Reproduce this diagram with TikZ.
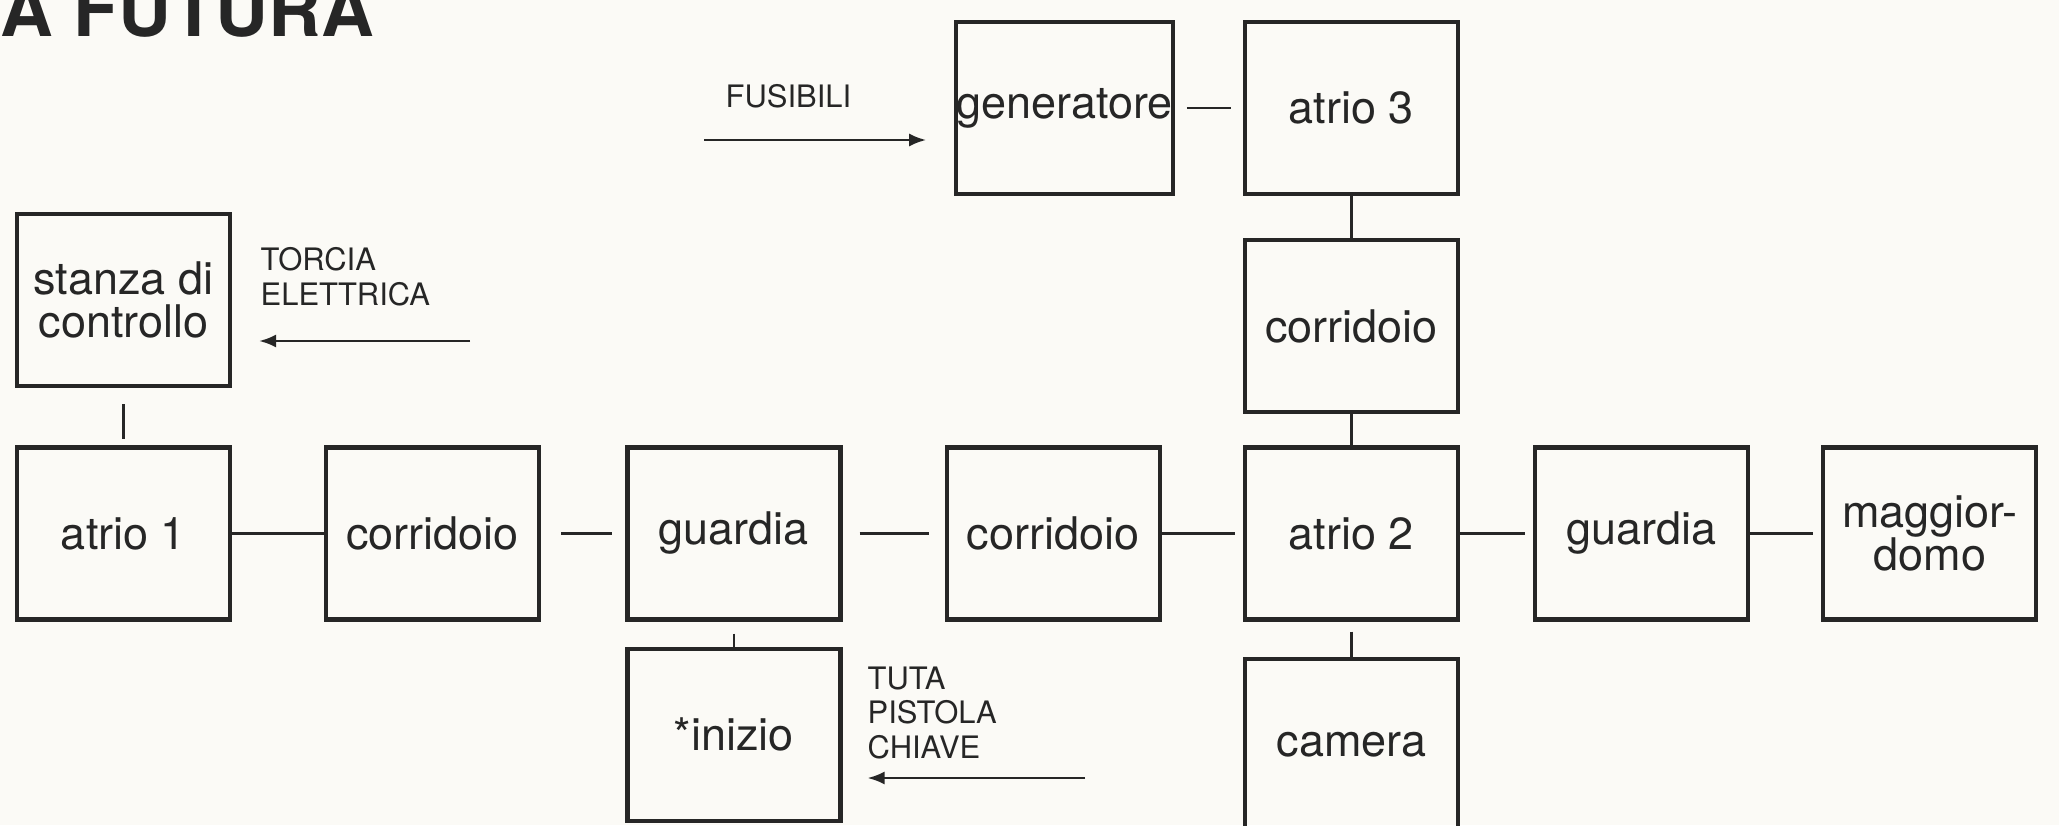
\documentclass[tikz,border=0pt]{standalone}
\usepackage{fontspec}
\setmainfont{TeX Gyre Heros}
\usetikzlibrary{positioning,arrows.meta}
\definecolor{paper}{HTML}{FBFAF6}
\definecolor{ink}{HTML}{262626}

\begin{document}
\begin{tikzpicture}[node distance=3mm and 9mm,
  every node/.style={font=\fontsize{12.8}{12.2}\selectfont, text=ink},
  room/.style={draw=ink, line width=1.2pt, minimum width=2.13cm, minimum height=1.72cm, inner sep=0pt, align=center},
  link/.style={draw=ink, line width=0.7pt},
  carry/.style={draw=ink, line width=0.7pt, -{Latex[length=1.7mm,width=1.3mm]}},
  cue/.style={font=\fontsize{8.8}{9.8}\selectfont, align=left, inner sep=0pt}]
\useasboundingbox[fill=paper] (0,0) rectangle (20.59,8.25);

% title, cut by the page edge
\begin{scope}
\clip (0,0) rectangle (20.59,8.25);
\node[anchor=base west, inner sep=0pt, font=\fontsize{20.8}{22}\selectfont\bfseries] (title) at (0,7.88) {A FUTURA};
\end{scope}

% rooms
\node[room] (atrioA) at (1.235,2.915) {atrio 1};
\node[room, right=0.92cm of atrioA] (corrA) {corridoio};
\node[room, right=0.84cm of corrA] (guardiaA) {guardia};
\node[room, right=1.02cm of guardiaA] (corrB) {corridoio};
\node[room, right=0.81cm of corrB] (atrioB) {atrio 2};
\node[room, right=0.73cm of atrioB] (guardiaB) {guardia};
\node[room, right=0.71cm of guardiaB] (maggiordomo) {maggior-\\domo};
\node[room, above=0.57cm of atrioA] (controllo) {stanza di\\controllo};
\node[room, below=0.25cm of guardiaA] (inizio) {*inizio};
\node[room, below=0.35cm of atrioB] (camera) {camera};
\node[room, above=0.31cm of atrioB] (corrC) {corridoio};
\node[room, above=0.42cm of corrC] (atrioC) {atrio 3};
\node[room, left=0.68cm of atrioC] (generatore) {generatore};

% passages
\draw[link, shorten <=1.6mm, shorten >=0.6mm] (controllo) -- (atrioA);
\draw[link] (atrioA) -- (corrA);
\draw[link, shorten <=2mm, shorten >=1.3mm] (corrA) -- (guardiaA);
\draw[link, shorten <=1.7mm, shorten >=1.6mm] (guardiaA) -- (corrB);
\draw[link, shorten >=0.8mm] (corrB) -- (atrioB);
\draw[link, shorten >=0.8mm] (atrioB) -- (guardiaB);
\draw[link, shorten >=0.8mm] (guardiaB) -- (maggiordomo);
\draw[link, shorten <=1.2mm] (guardiaA) -- (inizio);
\draw[link, shorten <=1mm] (atrioB) -- (camera);
\draw[link] (corrC) -- (atrioB);
\draw[link] (atrioC) -- (corrC);
\draw[link, shorten <=1.2mm, shorten >=1.2mm] (generatore) -- (atrioC);

% objects
\node[cue, anchor=north west] (torcia) at (2.60,5.78) {TORCIA\\ELETTRICA};
\coordinate (torciaTail) at (4.70,4.84);
\draw[carry, shorten >=2.7mm] (torciaTail) -- (torciaTail -| controllo.east);

\node[cue, anchor=north west] (fusibili) at (7.25,7.41) {FUSIBILI};
\coordinate (fusibiliTail) at (7.04,6.85);
\draw[carry, shorten >=2.8mm] (fusibiliTail) -- (fusibiliTail -| generatore.west);

\node[cue, anchor=north west] (tuta) at (8.67,1.59) {TUTA\\PISTOLA\\CHIAVE};
\coordinate (tutaTail) at (10.85,0.47);
\draw[carry, shorten >=2.5mm] (tutaTail) -- (tutaTail -| inizio.east);
\end{tikzpicture}
\end{document}
